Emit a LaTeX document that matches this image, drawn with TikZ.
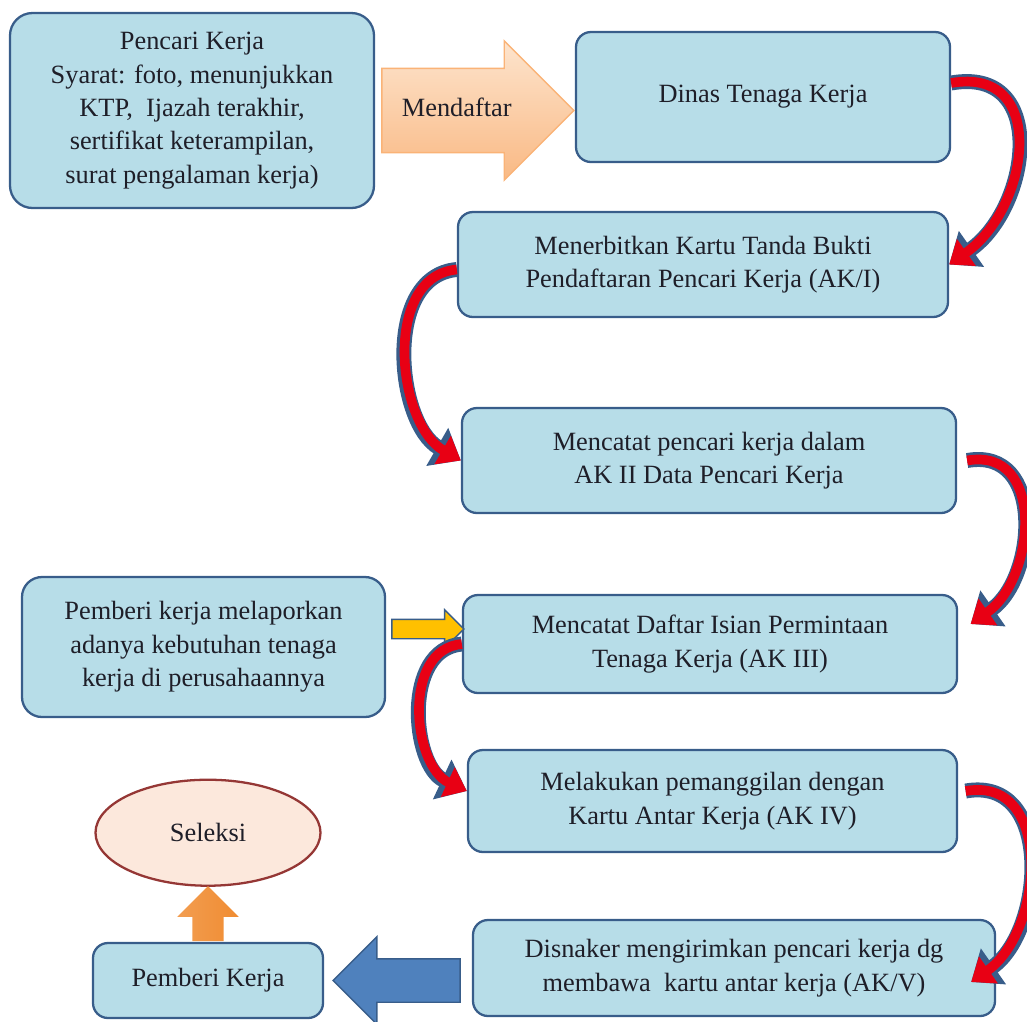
\documentclass[tikz,border=0pt]{standalone}
\usepackage{fontspec}
\setmainfont{Liberation Serif}
\usetikzlibrary{positioning,arrows.meta,shapes.arrows,shapes.geometric}

\definecolor{boxfill}{RGB}{183,221,232}
\definecolor{boxline}{RGB}{56,93,138}
\definecolor{inktext}{RGB}{30,30,40}
\definecolor{daftarlight}{RGB}{253,228,205}
\definecolor{daftardark}{RGB}{249,185,132}
\definecolor{lapor}{RGB}{255,192,0}
\definecolor{upor}{RGB}{240,140,50}
\definecolor{sendblue}{RGB}{79,129,189}
\definecolor{ellfill}{RGB}{252,232,220}
\definecolor{ellline}{RGB}{149,55,53}
\definecolor{bendred}{RGB}{232,0,20}

\begin{document}
\begin{tikzpicture}[x=0.2mm, y=0.2mm,
  box/.style={draw=boxline, line width=1.3pt, fill=boxfill, rounded corners=3mm,
    align=center, text=inktext, inner sep=0pt, font=\fontsize{15}{19}\selectfont},
  redcurve/.style={line width=5.5pt, draw=bendred, -{Triangle[length=12pt,width=18pt]},
    preaction={draw=boxline, line width=8.5pt, -{Triangle[length=15.5pt,width=24pt]}}},
  block/.style={single arrow, single arrow tip angle=90, inner xsep=0pt,
    text height=0pt, text depth=0pt, draw=boxline, line width=0.8pt}]
  \useasboundingbox (0,0) rectangle (1027,-1021);

  % boxes
  \node[box, minimum width=7.28cm, minimum height=3.9cm, rounded corners=4.5mm] (b1) at (192,-110.5)
    {Pencari Kerja\\Syarat: foto, menunjukkan\\KTP,\ \ Ijazah terakhir,\\sertifikat keterampilan,\\surat pengalaman kerja)};
  \node[box, minimum width=7.48cm, minimum height=2.6cm] (b2) at (763,-97) {Dinas Tenaga Kerja};
  \node[box, minimum width=9.8cm, minimum height=2.1cm] (b3) at (703,-264.5)
    {Menerbitkan Kartu Tanda Bukti\\Pendaftaran Pencari Kerja (AK/I)};
  \node[box, minimum width=9.88cm, minimum height=2.1cm] (b4) at (709,-460.5)
    {Mencatat pencari kerja dalam\\AK II Data Pencari Kerja};
  \node[box, minimum width=7.26cm, minimum height=2.8cm, rounded corners=4mm] (b5) at (203.5,-647)
    {Pemberi kerja melaporkan\\adanya kebutuhan tenaga\\kerja di perusahaannya};
  \node[box, minimum width=9.88cm, minimum height=1.96cm] (b6) at (710,-644)
    {Mencatat Daftar Isian Permintaan\\Tenaga Kerja (AK III)};
  \node[box, minimum width=9.78cm, minimum height=2.04cm] (b7) at (712.5,-801)
    {Melakukan pemanggilan dengan\\Kartu Antar Kerja (AK IV)};
  \node[box, minimum width=10.44cm, minimum height=1.92cm] (b8) at (734,-968)
    {Disnaker mengirimkan pencari kerja dg\\membawa\ \ kartu antar kerja (AK/V)};
  \node[box, minimum width=4.6cm, minimum height=1.5cm] (b9) at (208,-980.5) {Pemberi Kerja};
  \node[ellipse, draw=ellline, line width=1.3pt, fill=ellfill, text=inktext,
    minimum width=4.5cm, minimum height=2.12cm, font=\fontsize{15}{19}\selectfont,
    above=1.1cm of b9] (sel) {Seleksi};

  % block arrows
  \node[block, draw=daftardark!90!orange, top color=daftarlight, bottom color=daftardark,
    minimum height=3.84cm, text height=10pt, text depth=3pt, inner ysep=0.6cm,
    single arrow head extend=0.55cm, anchor=tail, text=inktext,
    font=\fontsize{15}{19}\selectfont] (daftar) at ([xshift=1.2mm]b1.east) {Mendaftar};
  \node[block, fill=lapor, minimum height=1.44cm, inner ysep=0.18cm,
    single arrow head extend=0.19cm, anchor=tail] (isi) at ([xshift=1mm,yshift=3.6mm]b5.east) {};
  \node[block, draw=none, left color=upor!85!white, right color=upor, rotate=90,
    minimum height=1.1cm, inner ysep=0.3cm, single arrow head extend=0.3cm,
    anchor=tail] (naik) at (b9.north) {};
  \node[block, fill=sendblue, rotate=180, minimum height=2.54cm, inner ysep=0.42cm,
    single arrow head extend=0.44cm, anchor=tip] (kirim) at ([xshift=1.6mm]b9.east) {};

  % curved arrows
  \draw[redcurve] ([yshift=2.8mm]b2.east) to[out=10, in=35, looseness=1.4] (b3.east);
  \draw[redcurve] ([yshift=-1mm]b3.west) to[out=185, in=150, looseness=1.0] (b4.west);
  \draw[redcurve] ([xshift=2mm]b4.east) to[out=10, in=35, looseness=1.25] ([xshift=2.5mm,yshift=4mm]b6.east);
  \draw[redcurve] (b6.west) to[out=185, in=155, looseness=1.05] ([yshift=2mm]b7.west);
  \draw[redcurve] ([xshift=1.5mm,yshift=2mm]b7.east) to[out=10, in=35, looseness=1.2] ([xshift=-5mm,yshift=-2.8mm]b8.east);
\end{tikzpicture}
\end{document}
